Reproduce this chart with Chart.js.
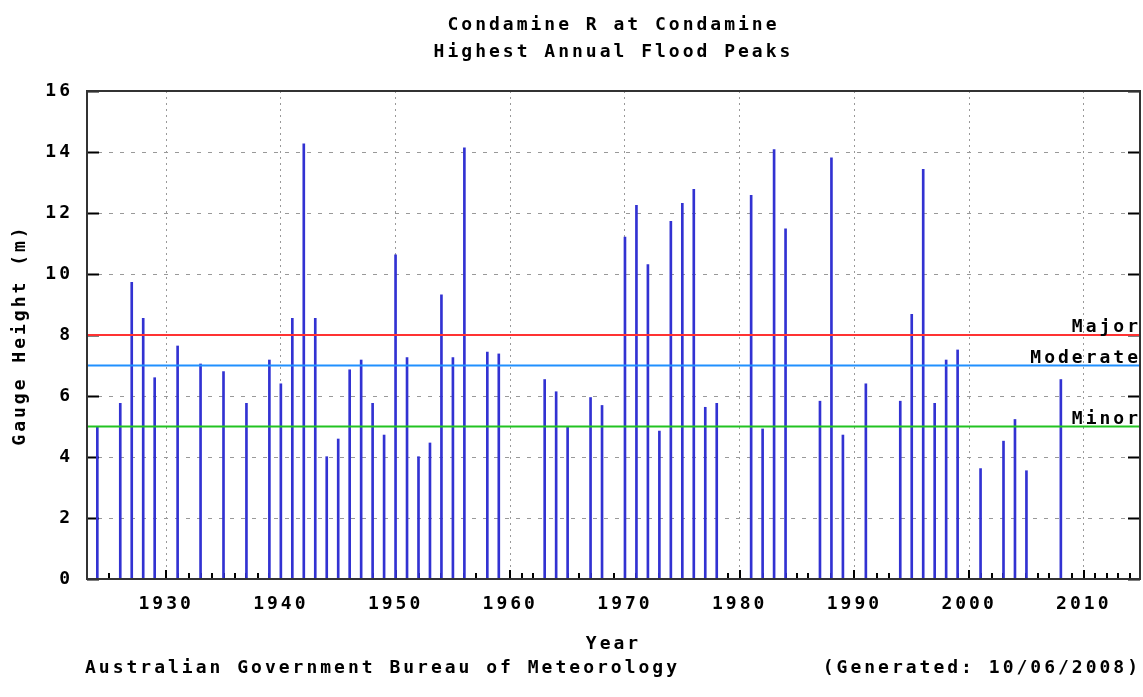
<!DOCTYPE html>
<html>
<head>
<meta charset="utf-8">
<script src="https://cdn.jsdelivr.net/npm/chart.js@4.4.1/dist/chart.umd.min.js"></script>
<style>
  html, body { margin: 0; padding: 0; background: #fff; }
  #wrap { position: relative; width: 1143px; height: 697px; }
</style>
</head>
<body>
<div id="wrap"><canvas id="floodChart"></canvas></div>
<script>
// annual flood peaks
var years = [1924, 1926, 1927, 1928, 1929, 1931, 1933, 1935, 1937, 1939,
             1940, 1941, 1942, 1943, 1944, 1945, 1946, 1947, 1948, 1949,
             1950, 1951, 1952, 1953, 1954, 1955, 1956, 1958, 1959,
             1963, 1964, 1965, 1967, 1968,
             1970, 1971, 1972, 1973, 1974, 1975, 1976, 1977, 1978,
             1981, 1982, 1983, 1984, 1987, 1988, 1989,
             1991, 1994, 1995, 1996, 1997, 1998, 1999,
             2001, 2003, 2004, 2005, 2008];
var peaks = [5.0, 5.76, 9.73, 8.55, 6.6, 7.64, 7.05, 6.8, 5.76, 7.18,
             6.4, 8.55, 14.27, 8.55, 4.01, 4.59, 6.86, 7.18, 5.76, 4.72,
             10.63, 7.26, 4.01, 4.46, 9.32, 7.26, 14.14, 7.44, 7.38,
             6.54, 6.14, 4.98, 5.95, 5.69,
             11.21, 12.25, 10.31, 4.85, 11.73, 12.32, 12.78, 5.63, 5.76,
             12.58, 4.92, 14.08, 11.48, 5.83, 13.81, 4.72,
             6.4, 5.83, 8.68, 13.43, 5.76, 7.18, 7.51,
             3.62, 4.52, 5.23, 3.55, 6.54];

var xTicks = [1930, 1940, 1950, 1960, 1970, 1980, 1990, 2000, 2010];
var yTicks = [0, 2, 4, 6, 8, 10, 12, 14, 16];

var levelNames = ['Major', 'Moderate', 'Minor'];
var levelHeights = [8, 7, 5];
var levelColours = ['#ff3333', '#2090ff', '#22c322'];

var xMin = 1923.1, xMax = 2014.9;

var monoFont = { family: '"DejaVu Sans Mono", monospace', size: 18, weight: 'bold', lineHeight: 1.2 };

var datasets = [{
  type: 'bar',
  label: 'Peak',
  data: years.map(function (y, i) { return { x: y, y: peaks[i] }; }),
  backgroundColor: '#3232d2',
  barThickness: 2,
  order: 2
}];
levelNames.forEach(function (name, i) {
  datasets.push({
    type: 'line',
    label: name,
    data: [{ x: xMin, y: levelHeights[i] }, { x: xMax, y: levelHeights[i] }],
    borderColor: levelColours[i],
    borderWidth: 2,
    pointRadius: 0,
    order: 1
  });
});

// gnuplot style frame, inward ticks, level labels and footer
var gnuplotBits = {
  id: 'gnuplotBits',
  beforeDraw: function (chart) {
    chart.ctx.letterSpacing = '3px';
  },
  beforeDatasetsDraw: function (chart) {
    var ctx = chart.ctx, a = chart.chartArea;
    var xs = chart.scales.x, ys = chart.scales.y;
    ctx.save();
    ctx.strokeStyle = '#000';
    ctx.lineWidth = 2;
    ctx.beginPath();
    for (var yr = Math.ceil(xMin); yr <= xMax; yr++) {
      var px = Math.round(xs.getPixelForValue(yr));
      var len = yr % 10 === 0 ? 9 : 6;
      ctx.moveTo(px, a.bottom);
      ctx.lineTo(px, a.bottom - len);
    }
    yTicks.forEach(function (v) {
      var py = Math.round(ys.getPixelForValue(v)) + 0.5;
      ctx.moveTo(a.left, py);
      ctx.lineTo(a.left + 12, py);
      ctx.moveTo(a.right - 12, py);
      ctx.lineTo(a.right, py);
    });
    ctx.stroke();
    ctx.restore();
  },
  afterDatasetsDraw: function (chart) {
    var ctx = chart.ctx, a = chart.chartArea, ys = chart.scales.y;
    ctx.save();
    ctx.strokeStyle = '#333';
    ctx.lineWidth = 2;
    ctx.strokeRect(a.left, a.top, a.right - a.left, a.bottom - a.top);
    ctx.fillStyle = '#000';
    ctx.font = 'bold 18px "DejaVu Sans Mono", monospace';
    ctx.letterSpacing = '3px';
    ctx.textAlign = 'right';
    ctx.textBaseline = 'alphabetic';
    levelNames.forEach(function (name, i) {
      ctx.fillText(name, a.right + 1, ys.getPixelForValue(levelHeights[i]) - 3);
    });
    ctx.restore();
  },
  afterDraw: function (chart) {
    var ctx = chart.ctx;
    ctx.save();
    ctx.fillStyle = '#000';
    ctx.font = 'bold 18px "DejaVu Sans Mono", monospace';
    ctx.letterSpacing = '3px';
    ctx.textBaseline = 'middle';
    ctx.textAlign = 'left';
    ctx.fillText('Australian Government Bureau of Meteorology', 85, 668);
    ctx.textAlign = 'right';
    ctx.fillText('(Generated: 10/06/2008)', 1141, 668);
    ctx.restore();
  }
};

var ctx = document.getElementById('floodChart').getContext('2d');
var floodChart = new Chart(ctx, {
  type: 'bar',
  data: { datasets: datasets },
  plugins: [gnuplotBits],
  options: {
    responsive: true,
    maintainAspectRatio: false,
    animation: false,
    layout: { padding: { left: 0, right: 3, top: 0, bottom: 0 } },
    plugins: {
      legend: { display: false },
      tooltip: { enabled: false },
      title: {
        display: true,
        fullSize: false,
        text: ['Condamine R at Condamine', 'Highest Annual Flood Peaks'],
        color: '#000',
        font: { family: monoFont.family, size: 18, weight: 'bold', lineHeight: 1.5 },
        padding: { top: 11.5, bottom: 25.5 }
      }
    },
    scales: {
      x: {
        type: 'linear',
        offset: false,
        min: xMin,
        max: xMax,
        afterBuildTicks: function (s) { s.ticks = xTicks.map(function (v) { return { value: v }; }); },
        afterFit: function (s) { s.height = 118; },
        grid: { color: '#999', lineWidth: 1, drawTicks: false, offset: false },
        border: { display: false, dash: [2, 4] },
        ticks: {
          color: '#000', font: monoFont, padding: 15, maxRotation: 0, autoSkip: false,
          callback: function (v) { return String(v); }
        },
        title: { display: true, text: 'Year', color: '#000', font: monoFont, padding: { top: 0, bottom: 42 } }
      },
      y: {
        min: 0,
        max: 16,
        afterBuildTicks: function (s) { s.ticks = yTicks.map(function (v) { return { value: v }; }); },
        afterFit: function (s) { s.width = 87; },
        grid: { color: '#999', lineWidth: 1, drawTicks: false },
        border: { display: false, dash: [4, 7] },
        ticks: {
          color: '#000', font: monoFont, padding: 14,
          callback: function (v) { return String(v); }
        },
        title: { display: true, text: 'Gauge Height (m)', color: '#000', font: monoFont, padding: { top: 10, bottom: 0 } }
      }
    }
  }
});
</script>
</body>
</html>
